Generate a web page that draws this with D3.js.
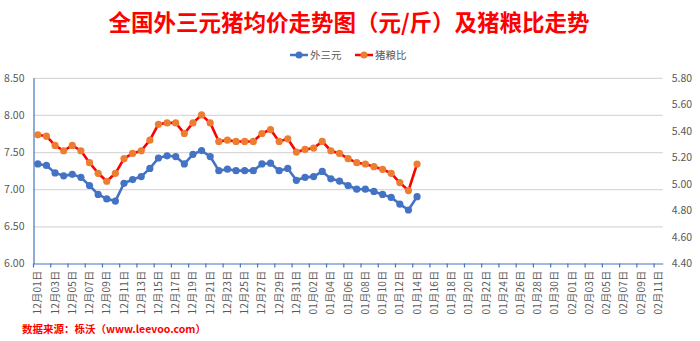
<!DOCTYPE html>
<html><head><meta charset="utf-8">
<script src="https://cdn.jsdelivr.net/npm/d3@7"></script>
<style>
body{margin:0;background:#fff;}
svg{display:block;}
</style></head>
<body><svg id="c" width="700" height="341"></svg>
<script>
const categories = ["12月01日","12月02日","12月03日","12月04日","12月05日","12月06日","12月07日","12月08日","12月09日","12月10日",
"12月11日","12月12日","12月13日","12月14日","12月15日","12月16日","12月17日","12月18日","12月19日","12月20日",
"12月21日","12月22日","12月23日","12月24日","12月25日","12月26日","12月27日","12月28日","12月29日","12月30日","12月31日",
"01月01日","01月02日","01月03日","01月04日","01月05日","01月06日","01月07日","01月08日","01月09日","01月10日",
"01月11日","01月12日","01月13日","01月14日","01月15日","01月16日","01月17日","01月18日","01月19日","01月20日",
"01月21日","01月22日","01月23日","01月24日","01月25日","01月26日","01月27日","01月28日","01月29日","01月30日","01月31日",
"02月01日","02月02日","02月03日","02月04日","02月05日","02月06日","02月07日","02月08日","02月09日","02月10日","02月11日"];
const priceValues = [7.34,7.32,7.22,7.18,7.20,7.16,7.05,6.93,6.87,6.84,7.08,7.13,7.17,7.28,7.42,7.45,7.44,7.34,7.47,7.52,
7.44,7.25,7.27,7.25,7.25,7.25,7.34,7.35,7.25,7.28,7.12,7.16,7.17,7.24,7.14,7.11,7.05,7.00,7.00,6.97,6.93,6.89,6.80,6.72,6.90];
const ratioValues = [5.37,5.36,5.29,5.25,5.29,5.25,5.16,5.08,5.02,5.08,5.19,5.23,5.25,5.33,5.45,5.46,5.46,5.38,5.46,5.52,
5.46,5.32,5.33,5.32,5.32,5.32,5.38,5.41,5.32,5.34,5.24,5.26,5.27,5.32,5.25,5.23,5.19,5.16,5.15,5.13,5.11,5.08,5.01,4.95,5.15];
const leftTicks = [6.00,6.50,7.00,7.50,8.00,8.50];
const rightTicks = [4.40,4.60,4.80,5.00,5.20,5.40,5.60,5.80];
const seriesNames = ["外三元","猪粮比"];
const titleText = "全国外三元猪均价走势图（元/斤）及猪粮比走势";
const sourceText = "数据来源：栎沃（www.leevoo.com）";

const svg = d3.select("#c");
const FONT = "'Noto Sans CJK SC','Noto Sans',sans-serif";
const L = 33.5, R = 662.7, T = 77.8, B = 263.5;
const BLUE = "#4472C4", RED = "#FF0000", ORANGE = "#ED7D31", GREY = "#595959";

const x = d3.scaleBand().domain(categories).range([L, R]).padding(0);
const bw = x.bandwidth();
const cx = c => x(c) + bw / 2;
const yL = d3.scaleLinear().domain([6.0, 8.5]).range([B, T]);
const yR = d3.scaleLinear().domain([4.4, 5.8]).range([B, T]);

// title
svg.append("text").attr("x", 349).attr("y", 31).attr("text-anchor", "middle")
  .attr("font-family", FONT).attr("font-weight", "bold").attr("font-size", 22.5)
  .attr("fill", RED).text(titleText);

// legend
const lg = svg.append("g").attr("font-family", FONT).attr("font-size", 10.5).attr("fill", GREY);
const legendItems = [{name: seriesNames[0], line: BLUE, dot: BLUE, x0: 290}, {name: seriesNames[1], line: RED, dot: ORANGE, x0: 355}];
legendItems.forEach(it => {
  lg.append("line").attr("x1", it.x0).attr("x2", it.x0 + 18).attr("y1", 55).attr("y2", 55)
    .attr("stroke", it.line).attr("stroke-width", 2.5);
  lg.append("circle").attr("cx", it.x0 + 9).attr("cy", 55).attr("r", 3.5).attr("fill", it.dot);
  lg.append("text").attr("x", it.x0 + 20).attr("y", 55).attr("dy", "0.35em").text(it.name);
});

// gridlines
const gy = d3.axisLeft(yL).tickValues(leftTicks.slice(1)).tickSize(-(R - L)).tickFormat("");
svg.append("g").attr("transform", `translate(${L},0)`).call(gy)
  .call(g => g.select(".domain").remove())
  .call(g => g.selectAll("line").attr("stroke", "#d9d9d9").attr("stroke-width", 1.2));

// left axis
svg.append("g").attr("transform", `translate(${L},0)`)
  .call(d3.axisLeft(yL).tickValues(leftTicks).tickFormat(d3.format(".2f")).tickSize(0).tickPadding(9))
  .call(g => g.select(".domain").attr("stroke", BLUE).attr("stroke-width", 1.2))
  .call(g => g.selectAll("text").attr("font-family", FONT).attr("font-size", 10.5).attr("fill", GREY));

// right axis (labels only)
svg.append("g").attr("transform", `translate(${R},0)`)
  .call(d3.axisRight(yR).tickValues(rightTicks).tickFormat(d3.format(".2f")).tickSize(0).tickPadding(9))
  .call(g => g.select(".domain").remove())
  .call(g => g.selectAll("text").attr("font-family", FONT).attr("font-size", 10.5).attr("fill", GREY));

// bottom axis
const labelCats = categories.filter((c, i) => i % 2 === 0);
const xa = svg.append("g").attr("transform", `translate(0,${B})`)
  .call(d3.axisBottom(x).tickValues(labelCats).tickSize(0).tickSizeOuter(0))
  .call(g => g.select(".domain").attr("stroke", BLUE).attr("stroke-width", 1.2));
xa.selectAll("text").attr("font-family", FONT).attr("font-size", 10).attr("fill", GREY)
  .attr("text-anchor", "end").attr("transform", "rotate(-90)")
  .attr("x", -7).attr("y", 0).attr("dy", "0.35em").attr("letter-spacing", "0.3px");
xa.selectAll(".tickmark").data(labelCats).enter().append("line")
  .attr("x1", c => x(c)).attr("x2", c => x(c)).attr("y1", 0).attr("y2", 4)
  .attr("stroke", BLUE).attr("stroke-width", 1.2);

// lines
const priceData = priceValues.map((v, i) => ({c: categories[i], v}));
const ratioData = ratioValues.map((v, i) => ({c: categories[i], v}));
svg.append("path").datum(priceData).attr("fill", "none").attr("stroke", BLUE).attr("stroke-width", 2.6)
  .attr("stroke-linejoin", "round")
  .attr("d", d3.line().x(d => cx(d.c)).y(d => yL(d.v)));
svg.append("g").selectAll("circle").data(priceData).enter().append("circle")
  .attr("cx", d => cx(d.c)).attr("cy", d => yL(d.v)).attr("r", 3.6).attr("fill", BLUE);
svg.append("path").datum(ratioData).attr("fill", "none").attr("stroke", RED).attr("stroke-width", 2.6)
  .attr("stroke-linejoin", "round")
  .attr("d", d3.line().x(d => cx(d.c)).y(d => yR(d.v)));
svg.append("g").selectAll("circle").data(ratioData).enter().append("circle")
  .attr("cx", d => cx(d.c)).attr("cy", d => yR(d.v)).attr("r", 3.6).attr("fill", ORANGE);

// source
svg.append("text").attr("x", 22).attr("y", 329).attr("dy", "0.35em")
  .attr("font-family", FONT).attr("font-weight", "bold").attr("font-size", 10.5)
  .attr("fill", RED).text(sourceText);
</script></body></html>
